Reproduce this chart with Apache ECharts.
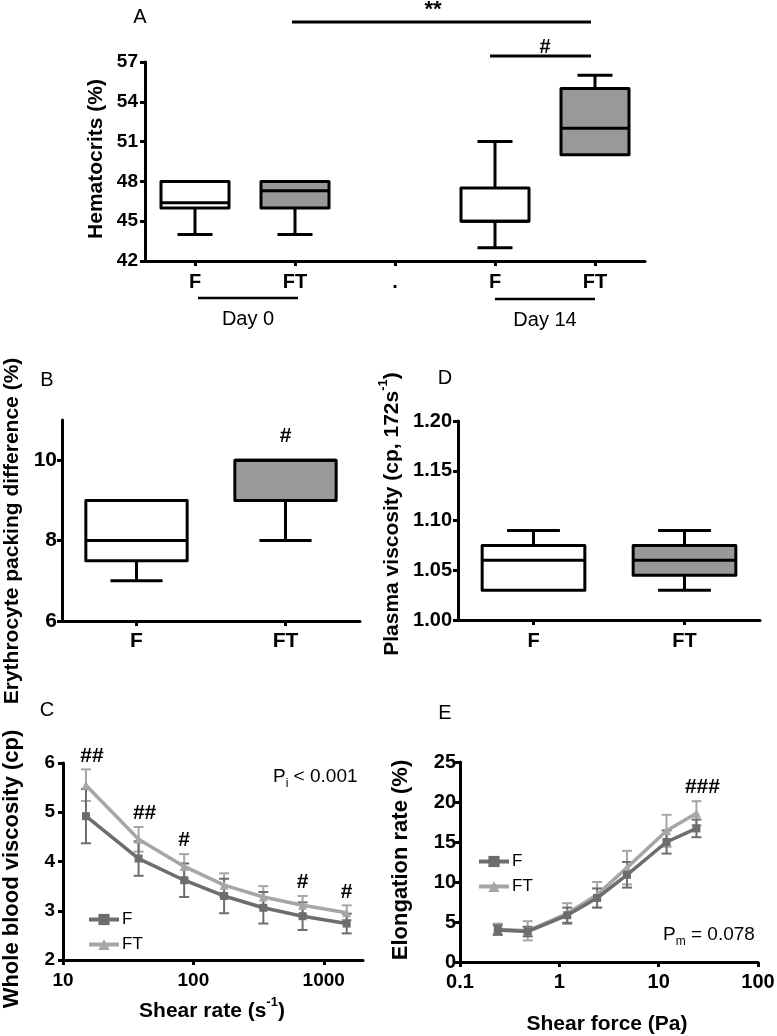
<!DOCTYPE html>
<html><head><meta charset="utf-8">
<script src="https://cdn.jsdelivr.net/npm/echarts@6/dist/echarts.min.js"></script>
<style>html,body{margin:0;padding:0;background:#fff}#c{width:777px;height:1036px}</style>
</head><body><div id="c"></div>
<script>
// ================= DATA =================
// Panel A – Hematocrits (%) box plots: [min, Q1, median, Q3, max]
const aCategories = ['F', 'FT', '.', 'F', 'FT'];
const aGroups = ['Day 0', 'Day 14'];
const aDay0F  = [44, 46, 46.4, 48, 48];
const aDay0FT = [44, 46, 47.3, 48, 48];
const aDay14F  = [43, 45, 45, 47.5, 51];
const aDay14FT = [50, 50, 52, 55, 56];
const aYTicks = [42, 45, 48, 51, 54, 57];

// Panel B – Erythrocyte packing difference (%)
const bCategories = ['F', 'FT'];
const bF  = [7, 7.5, 8, 9, 9];
const bFT = [8, 9, 10, 10, 10];
const bSig = ['', '#'];
const bYTicks = [6, 8, 10];

// Panel D – Plasma viscosity
const dCategories = ['F', 'FT'];
const dF  = [1.03, 1.03, 1.06, 1.075, 1.09];
const dFT = [1.03, 1.045, 1.06, 1.075, 1.09];
const dYTicks = [1.00, 1.05, 1.10, 1.15, 1.20];

// Panel C – Whole blood viscosity vs shear rate
const cShearRate = [15, 38, 85, 172, 344, 688, 1500];
const cF    = [4.92, 4.06, 3.62, 3.30, 3.06, 2.89, 2.74];
const cFsd  = [0.55, 0.35, 0.34, 0.35, 0.32, 0.28, 0.20];
const cFT   = [5.55, 4.45, 3.90, 3.52, 3.28, 3.11, 2.96];
const cFTsd = [0.32, 0.25, 0.25, 0.24, 0.22, 0.19, 0.15];
const cSig  = ['##', '##', '#', '', '', '#', '#'];
const cXTicks = [10, 100, 1000];
const cYTicks = [2, 3, 4, 5, 6];

// Panel E – Elongation rate vs shear force
const eShearForce = [0.24, 0.48, 1.2, 2.4, 4.8, 12, 24];
const eF    = [4.0, 3.8, 5.85, 8.0, 10.9, 15.0, 16.7];
const eFsd  = [0.6, 0.6, 0.95, 1.2, 1.6, 1.45, 1.1];
const eFT   = [4.1, 3.9, 6.05, 8.4, 11.8, 16.4, 18.6];
const eFTsd = [0.7, 1.2, 1.3, 1.6, 2.1, 2.0, 1.5];
const eSig  = ['', '', '', '', '', '', '###'];
const eXTicks = [0.1, 1, 10, 100];
const eYTicks = [0, 5, 10, 15, 20, 25];

// ================= STYLE =================
const FONT = "'Liberation Sans', Arial, Helvetica, sans-serif";
const F_COLOR = '#6d6d6d';
const FT_COLOR = '#a6a6a6';
const BOX_GRAY = '#999999';

function boxRenderer(categories) {
  return function (params, api) {
    const i = api.value(0);
    const v = [1, 2, 3, 4, 5].map(k => api.value(k));
    const band = api.size([1, 0])[0];
    const P = k => api.coord([i, v[k]]);
    const cx = P(2)[0];
    const yMin = P(0)[1], yQ1 = P(1)[1], yMed = P(2)[1], yQ3 = P(3)[1], yMax = P(4)[1];
    const bw = band * 0.68, cw = band * 0.35;
    const ls = { stroke: '#000', lineWidth: 3 };
    const ch = [];
    if (Math.abs(yMax - yQ3) > 0.5) {
      ch.push({ type: 'line', shape: { x1: cx, y1: yQ3, x2: cx, y2: yMax }, style: ls });
      ch.push({ type: 'line', shape: { x1: cx - cw / 2, y1: yMax, x2: cx + cw / 2, y2: yMax }, style: ls });
    }
    if (Math.abs(yMin - yQ1) > 0.5) {
      ch.push({ type: 'line', shape: { x1: cx, y1: yQ1, x2: cx, y2: yMin }, style: ls });
      ch.push({ type: 'line', shape: { x1: cx - cw / 2, y1: yMin, x2: cx + cw / 2, y2: yMin }, style: ls });
    }
    ch.push({ type: 'rect', shape: { x: cx - bw / 2, y: yQ3, width: bw, height: yQ1 - yQ3 },
      style: { fill: categories[i] === 'FT' ? BOX_GRAY : '#fff', stroke: '#000', lineWidth: 3, lineJoin: 'round' } });
    ch.push({ type: 'line', shape: { x1: cx - bw / 2, y1: yMed, x2: cx + bw / 2, y2: yMed }, style: ls });
    return { type: 'group', children: ch };
  };
}

function errRenderer(color) {
  return function (params, api) {
    const x = api.value(0);
    const a = api.coord([x, api.value(2)]), b = api.coord([x, api.value(1)]);
    const cw = 5, st = { stroke: color, lineWidth: 2 };
    return { type: 'group', children: [
      { type: 'line', shape: { x1: a[0], y1: a[1], x2: b[0], y2: b[1] }, style: st },
      { type: 'line', shape: { x1: a[0] - cw, y1: a[1], x2: a[0] + cw, y2: a[1] }, style: st },
      { type: 'line', shape: { x1: b[0] - cw, y1: b[1], x2: b[0] + cw, y2: b[1] }, style: st }
    ] };
  };
}

function sigRenderer(texts, gap) {
  return function (params, api) {
    const t = texts[params.dataIndex];
    if (!t) return null;
    const p = api.coord([api.value(0), api.value(1)]);
    return { type: 'text', x: p[0] + (t.length > 1 ? 6 : 0), y: p[1] - gap,
      style: { text: t, fill: '#000', fontSize: 21, fontWeight: 'bold', fontFamily: FONT,
        align: 'center', verticalAlign: 'bottom', textAlign: 'center', textVerticalAlign: 'bottom' } };
  };
}

function axisCommon(extra) {
  const base = {
    axisLine: { show: true, onZero: false, lineStyle: { color: '#000', width: 3 } },
    axisTick: { show: true, length: 5, lineStyle: { color: '#000', width: 3 } },
    axisLabel: { color: '#000', fontWeight: 'bold', fontFamily: FONT },
    splitLine: { show: false }
  };
  for (const k in extra) {
    if (typeof extra[k] === 'object' && !Array.isArray(extra[k]) && base[k]) {
      base[k] = Object.assign({}, base[k], extra[k]);
    } else base[k] = extra[k];
  }
  return base;
}

const grids = [
  { left: 145, top: 62, width: 500, height: 199 },   // A
  { left: 62, top: 420, width: 298, height: 201 },   // B
  { left: 458, top: 421, width: 302, height: 199 },  // D
  { left: 63, top: 763, width: 300, height: 197 },   // C
  { left: 460, top: 762, width: 298, height: 200 }   // E
].map(g => Object.assign({ outerBoundsMode: 'none', containLabel: false }, g));

const plainNum = v => String(+(+v).toPrecision(3));

const xAxes = [
  axisCommon({ type: 'category', gridIndex: 0, data: aCategories, boundaryGap: true,
    axisTick: { alignWithLabel: true }, axisLabel: { fontSize: 20, margin: 11, interval: 0 } }),
  axisCommon({ type: 'category', gridIndex: 1, data: bCategories, boundaryGap: true,
    axisTick: { alignWithLabel: true }, axisLabel: { fontSize: 21, margin: 10, interval: 0 } }),
  axisCommon({ type: 'category', gridIndex: 2, data: dCategories, boundaryGap: true,
    axisTick: { alignWithLabel: true }, axisLabel: { fontSize: 20, margin: 11, interval: 0 } }),
  axisCommon({ type: 'log', logBase: 10, gridIndex: 3, min: 10, max: 2000,
    axisTick: { customValues: cXTicks }, axisLabel: { fontSize: 19, margin: 11, customValues: cXTicks, formatter: plainNum } }),
  axisCommon({ type: 'log', logBase: 10, gridIndex: 4, min: 0.1, max: 100,
    axisTick: { customValues: eXTicks }, axisLabel: { fontSize: 20, margin: 10, customValues: eXTicks, formatter: plainNum } })
];
const yAxes = [
  axisCommon({ type: 'value', gridIndex: 0, min: 42, max: 57, interval: 3,
    axisTick: { customValues: aYTicks }, axisLabel: { fontSize: 19, margin: 7, customValues: aYTicks } }),
  axisCommon({ type: 'value', gridIndex: 1, min: 6, max: 11, interval: 2,
    axisTick: { customValues: bYTicks }, axisLabel: { fontSize: 21, margin: 5, customValues: bYTicks } }),
  axisCommon({ type: 'value', gridIndex: 2, min: 1, max: 1.2,
    axisTick: { customValues: dYTicks }, axisLabel: { fontSize: 20, margin: 6, customValues: dYTicks,
      formatter: v => (+v).toFixed(2) } }),
  axisCommon({ type: 'value', gridIndex: 3, min: 2, max: 6, interval: 1,
    axisTick: { customValues: cYTicks }, axisLabel: { fontSize: 19, margin: 8, customValues: cYTicks } }),
  axisCommon({ type: 'value', gridIndex: 4, min: 0, max: 25, interval: 5,
    axisTick: { customValues: eYTicks }, axisLabel: { fontSize: 20, margin: 4, customValues: eYTicks } })
];

const boxDims = { x: 0, y: [1, 2, 3, 4, 5] };
const series = [
  { type: 'custom', xAxisIndex: 0, yAxisIndex: 0, renderItem: boxRenderer(aCategories), encode: boxDims, clip: false,
    data: [[0, ...aDay0F], [1, ...aDay0FT], [3, ...aDay14F], [4, ...aDay14FT]] },
  { type: 'custom', xAxisIndex: 1, yAxisIndex: 1, renderItem: boxRenderer(bCategories), encode: boxDims, clip: false,
    data: [[0, ...bF], [1, ...bFT]] },
  { type: 'custom', xAxisIndex: 1, yAxisIndex: 1, renderItem: sigRenderer(bSig, 13), encode: { x: 0, y: 1 }, clip: false,
    data: [[0, bF[4]], [1, bFT[4]]] },
  { type: 'custom', xAxisIndex: 2, yAxisIndex: 2, renderItem: boxRenderer(dCategories), encode: boxDims, clip: false,
    data: [[0, ...dF], [1, ...dFT]] },
  // Panel C
  { type: 'custom', xAxisIndex: 3, yAxisIndex: 3, renderItem: errRenderer(FT_COLOR), encode: { x: 0, y: [1, 2] }, z: 1, clip: false,
    data: cShearRate.map((x, i) => [x, cFT[i] - cFTsd[i], cFT[i] + cFTsd[i]]) },
  { type: 'custom', xAxisIndex: 3, yAxisIndex: 3, renderItem: errRenderer(F_COLOR), encode: { x: 0, y: [1, 2] }, z: 1, clip: false,
    data: cShearRate.map((x, i) => [x, cF[i] - cFsd[i], cF[i] + cFsd[i]]) },
  { type: 'line', name: 'FT', xAxisIndex: 3, yAxisIndex: 3, data: cShearRate.map((x, i) => [x, cFT[i]]),
    symbol: 'triangle', symbolSize: 9, showAllSymbol: true, lineStyle: { color: FT_COLOR, width: 3.5 }, itemStyle: { color: FT_COLOR }, z: 3 },
  { type: 'line', name: 'F', xAxisIndex: 3, yAxisIndex: 3, data: cShearRate.map((x, i) => [x, cF[i]]),
    symbol: 'rect', symbolSize: 8, showAllSymbol: true, lineStyle: { color: F_COLOR, width: 3.5 }, itemStyle: { color: F_COLOR }, z: 4 },
  { type: 'custom', xAxisIndex: 3, yAxisIndex: 3, renderItem: sigRenderer(cSig, 3), encode: { x: 0, y: 1 }, clip: false,
    data: cShearRate.map((x, i) => [x, cFT[i] + cFTsd[i]]) },
  // Panel E
  { type: 'custom', xAxisIndex: 4, yAxisIndex: 4, renderItem: errRenderer(FT_COLOR), encode: { x: 0, y: [1, 2] }, z: 1, clip: false,
    data: eShearForce.map((x, i) => [x, eFT[i] - eFTsd[i], eFT[i] + eFTsd[i]]) },
  { type: 'custom', xAxisIndex: 4, yAxisIndex: 4, renderItem: errRenderer(F_COLOR), encode: { x: 0, y: [1, 2] }, z: 1, clip: false,
    data: eShearForce.map((x, i) => [x, eF[i] - eFsd[i], eF[i] + eFsd[i]]) },
  { type: 'line', name: 'FT', xAxisIndex: 4, yAxisIndex: 4, data: eShearForce.map((x, i) => [x, eFT[i]]),
    symbol: 'triangle', symbolSize: 9, showAllSymbol: true, lineStyle: { color: FT_COLOR, width: 3.5 }, itemStyle: { color: FT_COLOR }, z: 3 },
  { type: 'line', name: 'F', xAxisIndex: 4, yAxisIndex: 4, data: eShearForce.map((x, i) => [x, eF[i]]),
    symbol: 'rect', symbolSize: 8, showAllSymbol: true, lineStyle: { color: F_COLOR, width: 3.5 }, itemStyle: { color: F_COLOR }, z: 4 },
  { type: 'custom', xAxisIndex: 4, yAxisIndex: 4, renderItem: sigRenderer(eSig, 3), encode: { x: 0, y: 1 }, clip: false,
    data: eShearForce.map((x, i) => [x, eFT[i] + eFTsd[i]]) }
];

const legendCommon = {
  orient: 'vertical', data: ['F', 'FT'], itemWidth: 30, itemHeight: 14, itemGap: 8, padding: 0,
  selectedMode: false, lineStyle: { width: 4 },
  textStyle: { fontSize: 17, fontFamily: FONT, color: '#000', padding: [0, 0, 0, -2] }
};

function txt(x, y, text, size, weight, extra) {
  return Object.assign({ type: 'text', x, y, silent: true,
    style: Object.assign({ text, fill: '#000', fontSize: size, fontWeight: weight, fontFamily: FONT,
      align: 'center', verticalAlign: 'middle', textAlign: 'center', textVerticalAlign: 'middle' }, (extra && extra.style) || {}) },
    extra ? { rotation: extra.rotation || 0 } : {});
}
const ROT = Math.PI / 2;
const supRich = { sup: { fontSize: 13, fontWeight: 'bold', fontFamily: FONT, verticalAlign: 'top', lineHeight: 13 },
                  n: { fontSize: 21, fontWeight: 'bold', fontFamily: FONT, lineHeight: 30 } };
const subRich = { sub: { fontSize: 12, fontFamily: FONT, verticalAlign: 'bottom', lineHeight: 12 },
                  n: { fontSize: 19, fontFamily: FONT, lineHeight: 26 } };

const staticGraphics = [
  txt(140, 17, 'A', 20, 'normal'),
  txt(47, 380, 'B', 20, 'normal'),
  txt(445, 378, 'D', 20, 'normal'),
  txt(47, 710, 'C', 20, 'normal'),
  txt(445, 713, 'E', 20, 'normal'),
  txt(96, 159, 'Hematocrits (%)', 21, 'bold', { rotation: ROT }),
  txt(12, 531, 'Erythrocyte packing difference (%)', 21, 'bold', { rotation: ROT }),
  txt(392, 514, '{n|Plasma viscosity (cp, 172s}{sup|-1}{n|)}', 21, 'bold', { rotation: ROT, style: { rich: supRich } }),
  txt(12, 869, 'Whole blood viscosity (cp)', 22, 'bold', { rotation: ROT }),
  txt(401, 860, 'Elongation rate (%)', 22, 'bold', { rotation: ROT }),
  txt(212, 1011, '{n|Shear rate (s}{sup|-1}{n|)}', 21, 'bold', { style: { rich: supRich } }),
  txt(607, 1024, 'Shear force (Pa)', 21, 'bold'),
  txt(273, 777, '{n|P}{sub|i}{n| < 0.001}', 19, 'normal', { style: { rich: subRich, align: 'left', textAlign: 'left' } }),
  txt(663, 935, '{n|P}{sub|m}{n| = 0.078}', 19, 'normal', { style: { rich: subRich, align: 'left', textAlign: 'left' } })
];

const chart = echarts.init(document.getElementById('c'), null, { renderer: 'canvas' });
chart.setOption({
  animation: false,
  backgroundColor: '#fff',
  textStyle: { fontFamily: FONT },
  grid: grids,
  xAxis: xAxes,
  yAxis: yAxes,
  legend: [
    Object.assign({}, legendCommon, { left: 87, top: 911 }),
    Object.assign({}, legendCommon, { left: 477, top: 853 })
  ],
  series,
  graphic: staticGraphics
});

// Annotations for panel A, positioned from the category axis
const ax = i => chart.convertToPixel({ xAxisIndex: 0 }, i);
const lineEl = (x1, x2, y, w) => ({ type: 'line', silent: true, shape: { x1, y1: y, x2, y2: y }, style: { stroke: '#000', lineWidth: w } });
const annot = [
  lineEl(ax(1) - 3, ax(4) - 4, 22, 3),
  txt((ax(1) + ax(4)) / 2 - 12, 10, '**', 22, 'bold'),
  lineEl(ax(3) - 5, ax(4) - 4, 56, 3),
  txt((ax(3) + ax(4)) / 2, 47, '#', 20, 'bold'),
  lineEl(ax(0) + 3, ax(1) + 3, 298, 2.5),
  txt((ax(0) + ax(1)) / 2 + 3, 319, aGroups[0], 20, 'normal'),
  lineEl(ax(3), ax(4), 299, 2.5),
  txt((ax(3) + ax(4)) / 2, 320, aGroups[1], 20, 'normal')
];
chart.setOption({ graphic: staticGraphics.concat(annot) });
</script>
</body></html>
